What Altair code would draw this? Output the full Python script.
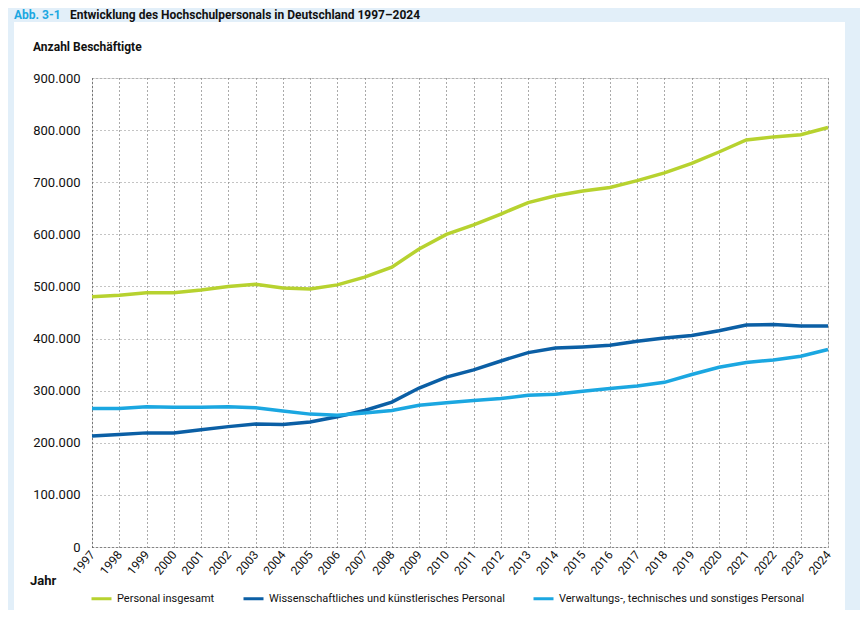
import altair as alt
import pandas as pd

years = list(range(1997, 2025))
total = [480000, 483000, 488000, 488000, 493000, 500000, 504000, 497000, 495000, 503000,
         518000, 537000, 572000, 600000, 618000, 639000, 661000, 674000, 683000, 690000,
         703000, 718000, 736000, 758000, 781000, 787000, 791000, 805000]
wiss = [213000, 216000, 219000, 219000, 225000, 231000, 236000, 235000, 240000, 250000,
        262000, 278000, 305000, 326000, 340000, 357000, 373000, 382000, 384000, 387000,
        395000, 401000, 406000, 415000, 426000, 427000, 424000, 424000]
verw = [266000, 266000, 269000, 268000, 268000, 269000, 267000, 261000, 255000, 253000,
        257000, 262000, 272000, 277000, 281000, 285000, 291000, 293000, 299000, 304000,
        309000, 316000, 331000, 345000, 354000, 359000, 366000, 379000]
series_names = ["Personal insgesamt",
                "Wissenschaftliches und künstlerisches Personal",
                "Verwaltungs-, technisches und sonstiges Personal"]
colors = ["#b7d22f", "#0b5fa5", "#1ba7e1"]
y_ticks = list(range(0, 900001, 100000))

rows = []
for name, vals in zip(series_names, [total, wiss, verw]):
    for yr, v in zip(years, vals):
        rows.append({"Jahr": yr, "Wert": v, "Reihe": name})
df = pd.DataFrame(rows)

FONT = "Roboto"
BAND = "#e2eff9"
dummy = pd.DataFrame({"a": [0]})

# light-blue frame around the white panel
band_left = alt.Chart(dummy).mark_rect(color=BAND, clip=False).encode(
    x=alt.value(-90), x2=alt.value(-78), y=alt.value(-80), y2=alt.value(620))
band_top = alt.Chart(dummy).mark_rect(color=BAND, clip=False).encode(
    x=alt.value(-90), x2=alt.value(780), y=alt.value(-80), y2=alt.value(-56))
band_right = alt.Chart(dummy).mark_rect(color=BAND, clip=False).encode(
    x=alt.value(753), x2=alt.value(780), y=alt.value(-80), y2=alt.value(620))

lines = alt.Chart(df).mark_line(strokeWidth=3.5, clip=False).encode(
    x=alt.X("Jahr:Q", scale=alt.Scale(domain=[1997, 2024], nice=False),
            axis=alt.Axis(values=years, format="d", labelAngle=-50, labelAlign="right",
                          labelBaseline="middle", labelOverlap=False, labelBound=False,
                          grid=True, gridDash=[1, 3], gridColor="#555", gridWidth=1,
                          ticks=False, domain=True, domainDash=[1, 3], domainColor="#555",
                          labelFontSize=12, labelPadding=5, labelColor="#111",
                          labelFont=FONT, title=None)),
    y=alt.Y("Wert:Q", scale=alt.Scale(domain=[0, 900000], nice=False),
            axis=alt.Axis(values=y_ticks,
                          labelExpr="replace(format(datum.value, ','), ',', '.')",
                          grid=True, gridDash=[1, 3], gridColor="#888", gridWidth=1,
                          ticks=False, domain=True, domainDash=[1, 3], domainColor="#555",
                          labelFontSize=13, labelPadding=12, labelColor="#111",
                          labelFont=FONT, title=None)),
    color=alt.Color("Reihe:N", scale=alt.Scale(domain=series_names, range=colors),
                    legend=alt.Legend(orient="none", legendX=-2, legendY=509,
                                      direction="horizontal", title=None,
                                      symbolType="stroke", symbolStrokeWidth=3,
                                      symbolSize=400, labelFont=FONT, labelFontSize=11,
                                      labelLimit=400, labelColor="#111",
                                      columnPadding=22)),
)

t_ylab = alt.Chart(dummy).mark_text(text="Anzahl Beschäftigte", font=FONT, fontSize=12,
                                    fontWeight="bold", align="left", baseline="alphabetic",
                                    color="#111").encode(x=alt.value(-59), y=alt.value(-27))
t_xlab = alt.Chart(dummy).mark_text(text="Jahr", font=FONT, fontSize=13,
                                    fontWeight="bold", align="left", baseline="alphabetic",
                                    color="#111").encode(x=alt.value(-62), y=alt.value(507))
t_abb = alt.Chart(dummy).mark_text(text="Abb. 3-1", font=FONT, fontSize=12,
                                   fontWeight="bold", align="left", baseline="alphabetic",
                                   color="#1ba7e1").encode(x=alt.value(-78), y=alt.value(-59))
t_title = alt.Chart(dummy).mark_text(
    text="Entwicklung des Hochschulpersonals in Deutschland 1997–2024", font=FONT,
    fontSize=12, fontWeight="bold", align="left", baseline="alphabetic",
    color="#111").encode(x=alt.value(-22), y=alt.value(-59))

chart = alt.layer(band_left, band_top, band_right, lines, t_ylab, t_xlab, t_abb,
                  t_title).properties(
    width=736, height=469,
    autosize=alt.AutoSizeParams(type="none"),
    padding={"left": 84, "top": 70, "right": 32, "bottom": 63},
    background="white",
).configure_view(stroke=None).configure(font=FONT)

chart.save("out.html", embed_options={"renderer": "svg", "actions": False})
